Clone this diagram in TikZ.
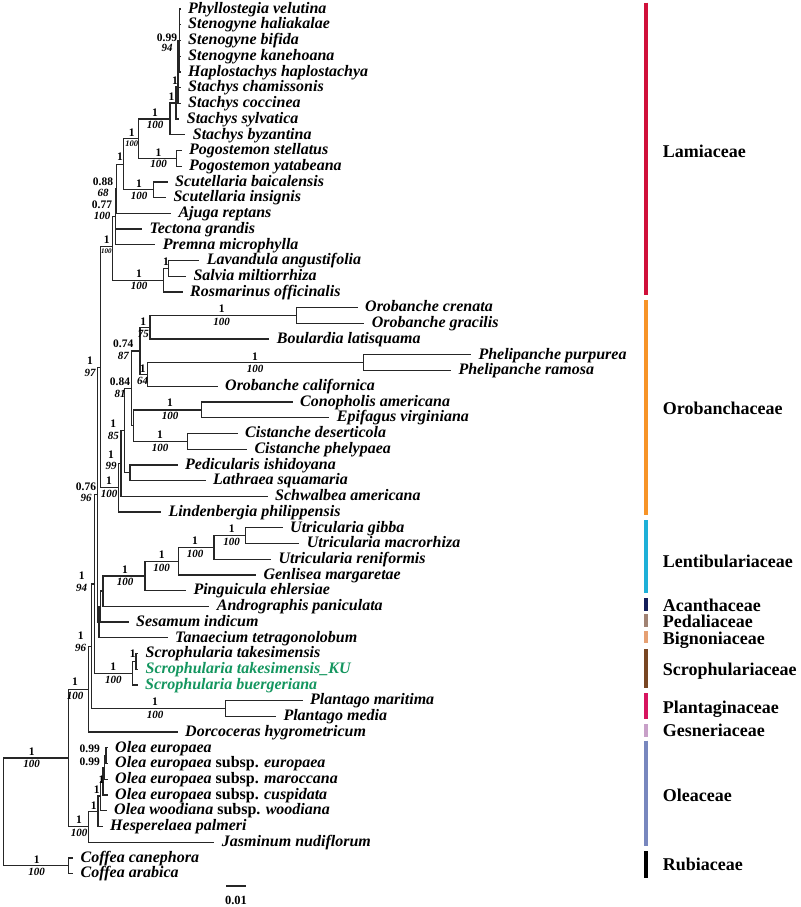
\documentclass[tikz,border=0pt]{standalone}
\usepackage{fontspec}
\setmainfont{Liberation Serif}
\definecolor{lamc}{RGB}{208,16,58}
\definecolor{oroc}{RGB}{247,148,40}
\definecolor{lenc}{RGB}{30,176,216}
\definecolor{acac}{RGB}{20,30,90}
\definecolor{pedc}{RGB}{160,130,115}
\definecolor{bigc}{RGB}{230,160,115}
\definecolor{scrc}{RGB}{120,70,35}
\definecolor{plac}{RGB}{215,20,95}
\definecolor{gesc}{RGB}{200,160,200}
\definecolor{olec}{RGB}{120,135,190}
\definecolor{grn}{RGB}{20,150,95}
\newcommand\lv[4]{\node[leafnode] (#1) at (#2,#3) {#4};}
\newcommand\brx[2]{\draw[brl] (#1) |- (#2);}
\newcommand\twolab[6]{\node[pp] (#1p) at (#2,#3) {#4}; \node[bs] (#1b) at (#2,#5) {#6};}
\newcommand\onelab[4]{\node[pp] (#1p) at (#2,#3) {#4};}
\newcommand\famlab[3]{\node[famnode] (#1) at (662.7,#2) {#3};}
\begin{document}
\begin{tikzpicture}[x=1pt,y=-1pt,
  brl/.style={line width=1.3pt, draw=black!85, line cap=rect},
  leafnode/.style={anchor=west, inner xsep=8pt, inner ysep=0pt, text height=11.5pt, text depth=3pt,
    font=\fontsize{16}{16}\selectfont\bfseries\itshape},
  pp/.style={inner sep=0pt, font=\fontsize{11.5}{12}\selectfont\bfseries},
  bs/.style={inner sep=0pt, font=\fontsize{11}{12}\selectfont\bfseries\itshape},
  famnode/.style={anchor=west, inner sep=0pt, text height=12pt, text depth=0pt,
    font=\fontsize{18}{20}\selectfont\bfseries},
  bar/.style={line width=4.6pt}]
\fill[white] (0,0) rectangle (800,907);
\useasboundingbox (0,0) rectangle (800,907);

% ---------- leaves ----------
\lv{L1}{180}{9.0}{Phyllostegia velutina}
\lv{L2}{180}{24.7}{Stenogyne haliakalae}
\lv{L3}{180}{40.4}{Stenogyne bifida}
\lv{L4}{180}{56.2}{Stenogyne kanehoana}
\lv{L5}{180}{71.9}{Haplostachys haplostachya}
\lv{L6}{180}{87.6}{Stachys chamissonis}
\lv{L7}{180}{103.3}{Stachys coccinea}
\lv{L8}{178.7}{119.0}{Stachys sylvatica}
\lv{L9}{184.7}{134.8}{Stachys byzantina}
\lv{L10}{181}{150.5}{Pogostemon stellatus}
\lv{L11}{181}{166.2}{Pogostemon yatabeana}
\lv{L12}{167}{181.9}{Scutellaria baicalensis}
\lv{L13}{165.3}{197.6}{Scutellaria insignis}
\lv{L14}{170.3}{213.4}{Ajuga reptans}
\lv{L15}{141.3}{229.1}{Tectona grandis}
\lv{L16}{154.7}{244.8}{Premna microphylla}
\lv{L17}{198.7}{260.5}{Lavandula angustifolia}
\lv{L18}{185.3}{276.2}{Salvia miltiorrhiza}
\lv{L19}{182}{292.0}{Rosmarinus officinalis}
\lv{L20}{357}{307.7}{Orobanche crenata}
\lv{L21}{363.7}{323.4}{Orobanche gracilis}
\lv{L22}{268.7}{339.1}{Boulardia latisquama}
\lv{L23}{470.3}{354.8}{Phelipanche purpurea}
\lv{L24}{450.3}{370.6}{Phelipanche ramosa}
\lv{L25}{217}{386.3}{Orobanche californica}
\lv{L26}{292}{402.0}{Conopholis americana}
\lv{L27}{328.7}{417.7}{Epifagus virginiana}
\lv{L28}{237}{433.4}{Cistanche deserticola}
\lv{L29}{246.3}{449.2}{Cistanche phelypaea}
\lv{L30}{177}{464.9}{Pedicularis ishidoyana}
\lv{L31}{205}{480.6}{Lathraea squamaria}
\lv{L32}{267}{496.3}{Schwalbea americana}
\lv{L33}{160.3}{512.0}{Lindenbergia philippensis}
\lv{L34}{282}{527.8}{Utricularia gibba}
\lv{L35}{298.7}{543.5}{Utricularia macrorhiza}
\lv{L36}{270.3}{559.2}{Utricularia reniformis}
\lv{L37}{255.3}{574.9}{Genlisea margaretae}
\lv{L38}{185.3}{590.6}{Pinguicula ehlersiae}
\lv{L39}{208.7}{606.4}{Andrographis paniculata}
\lv{L40}{128}{622.1}{Sesamum indicum}
\lv{L41}{167}{637.8}{Tanaecium tetragonolobum}
\lv{L42}{137.5}{653.5}{Scrophularia takesimensis}
\lv{L43}{137.5}{669.2}{\color{grn}Scrophularia takesimensis\_KU}
\lv{L44}{137}{685.0}{\color{grn}Scrophularia buergeriana}
\lv{L45}{302}{700.7}{Plantago maritima}
\lv{L46}{275.3}{716.4}{Plantago media}
\lv{L47}{177}{732.1}{Dorcoceras hygrometricum}
\lv{L48}{107}{747.8}{Olea europaea}
\lv{L49}{107}{763.6}{Olea europaea \upshape subsp. \itshape europaea}
\lv{L50}{107}{779.3}{Olea europaea \upshape subsp. \itshape maroccana}
\lv{L51}{107}{795.0}{Olea europaea \upshape subsp. \itshape cuspidata}
\lv{L52}{106}{810.7}{Olea woodiana \upshape subsp. \itshape woodiana}
\lv{L53}{102}{826.4}{Hesperelaea palmeri}
\lv{L54}{213.7}{842.2}{Jasminum nudiflorum}
\lv{L55}{72.5}{857.9}{Coffea canephora}
\lv{L56}{72.5}{873.6}{Coffea arabica}

% ---------- internal nodes ----------
\coordinate (a) at (179.5,40.4);
\coordinate (b) at (178,87);
\coordinate (c) at (176,103);
\coordinate (d) at (170,119);
\coordinate (Pog) at (176.7,158.3);
\coordinate (e) at (138.3,138.7);
\coordinate (Scut) at (153.3,189.8);
\coordinate (f) at (123.3,164.2);
\coordinate (g1) at (116.5,188.8);
\coordinate (g2) at (115.3,216.8);
\coordinate (Lav1) at (168.3,268.4);
\coordinate (Lav2) at (163.3,280.2);
\coordinate (h) at (112.7,246.7);
\coordinate (OC) at (296.7,315.5);
\coordinate (n) at (150,327.3);
\coordinate (Ph) at (363.3,362.7);
\coordinate (q) at (147.3,374.5);
\coordinate (o) at (140,350.9);
\coordinate (CE) at (201.7,409.9);
\coordinate (Cis) at (187.7,441.3);
\coordinate (s) at (133.3,425.6);
\coordinate (p) at (131.8,388.2);
\coordinate (PL) at (130,472.7);
\coordinate (r) at (124.5,430.5);
\coordinate (l) at (121,463.4);
\coordinate (k) at (118.3,487.7);
\coordinate (i) at (100.5,367.2);
\coordinate (U1) at (245.7,535.6);
\coordinate (U2) at (214,547.4);
\coordinate (U3) at (178.3,561.2);
\coordinate (Lent) at (145,575.9);
\coordinate (w) at (103,591.1);
\coordinate (v) at (100.8,606.6);
\coordinate (u) at (99,622.2);
\coordinate (j) at (97.3,494.7);
\coordinate (S1) at (136,661.4);
\coordinate (S2) at (132.7,673.2);
\coordinate (t) at (94.3,584);
\coordinate (Pl) at (225.7,708.5);
\coordinate (z) at (91.3,646.3);
\coordinate (R1a) at (88.7,689.2);
\coordinate (O1) at (106,755.7);
\coordinate (O2) at (104.5,767.5);
\coordinate (O3) at (103,781.3);
\coordinate (O4) at (100.5,796);
\coordinate (O5) at (98,811.2);
\coordinate (Olea) at (88.3,826.7);
\coordinate (R1) at (68.3,758);
\coordinate (Cof) at (68.3,865.7);
\coordinate (R0) at (3.3,811.9);

% ---------- branches ----------
\brx{a}{L1.west}\brx{a}{L2.west}\brx{a}{L3.west}\brx{a}{L4.west}\brx{a}{L5.west}
\brx{b}{a}\brx{b}{L6.west}\brx{b}{L7.west}
\brx{c}{b}\brx{c}{L8.west}
\brx{d}{c}\brx{d}{L9.west}
\brx{Pog}{L10.west}\brx{Pog}{L11.west}
\brx{e}{d}\brx{e}{Pog}
\brx{Scut}{L12.west}\brx{Scut}{L13.west}
\brx{f}{e}\brx{f}{Scut}
\brx{g1}{f}\brx{g1}{L14.west}
\brx{g2}{g1}\brx{g2}{L15.west}\brx{g2}{L16.west}
\brx{Lav1}{L17.west}\brx{Lav1}{L18.west}
\brx{Lav2}{Lav1}\brx{Lav2}{L19.west}
\brx{h}{g2}\brx{h}{Lav2}
\brx{OC}{L20.west}\brx{OC}{L21.west}
\brx{n}{OC}\brx{n}{L22.west}
\brx{Ph}{L23.west}\brx{Ph}{L24.west}
\brx{q}{Ph}\brx{q}{L25.west}
\brx{o}{n}\brx{o}{q}
\brx{CE}{L26.west}\brx{CE}{L27.west}
\brx{Cis}{L28.west}\brx{Cis}{L29.west}
\brx{s}{CE}\brx{s}{Cis}
\brx{p}{o}\brx{p}{s}
\brx{PL}{L30.west}\brx{PL}{L31.west}
\brx{r}{p}\brx{r}{PL}
\brx{l}{r}\brx{l}{L32.west}
\brx{k}{l}\brx{k}{L33.west}
\brx{i}{h}\brx{i}{k}
\brx{U1}{L34.west}\brx{U1}{L35.west}
\brx{U2}{U1}\brx{U2}{L36.west}
\brx{U3}{U2}\brx{U3}{L37.west}
\brx{Lent}{U3}\brx{Lent}{L38.west}
\brx{w}{Lent}\brx{w}{L39.west}
\brx{v}{w}\brx{v}{L40.west}
\brx{u}{v}\brx{u}{L41.west}
\brx{j}{i}\brx{j}{u}
\brx{S1}{L42.west}\brx{S1}{L43.west}
\brx{S2}{S1}\brx{S2}{L44.west}
\brx{t}{j}\brx{t}{S2}
\brx{Pl}{L45.west}\brx{Pl}{L46.west}
\brx{z}{t}\brx{z}{Pl}
\brx{R1a}{z}\brx{R1a}{L47.west}
\brx{O1}{L48.west}\brx{O1}{L49.west}
\brx{O2}{O1}\brx{O2}{L50.west}
\brx{O3}{O2}\brx{O3}{L51.west}
\brx{O4}{O3}\brx{O4}{L52.west}
\brx{O5}{O4}\brx{O5}{L53.west}
\brx{Olea}{O5}\brx{Olea}{L54.west}
\brx{R1}{R1a}\brx{R1}{Olea}
\brx{Cof}{L55.west}\brx{Cof}{L56.west}
\brx{R0}{R1}\brx{R0}{Cof}

% ---------- support values ----------
\twolab{a}{167}{38}{0.99}{48}{94}
\onelab{b}{175}{81}{1}
\onelab{c}{171.5}{96.5}{1}
\twolab{d}{155}{113}{1}{124.5}{100}
\twolab{Pog}{158.5}{152.5}{1}{164}{100}
\node[pp] (ep) at (131.7,132.5) {1};
\node[bs, font=\fontsize{8.5}{9}\selectfont\bfseries\itshape] (eb) at (131.7,144) {100};
\twolab{Scut}{139}{183.5}{1}{195.5}{100}
\onelab{f}{120}{157}{1}
\twolab{g1}{103}{182}{0.88}{192.5}{68}
\twolab{g2}{102}{205}{0.77}{215.5}{100}
\node[pp] (hp) at (106.7,240) {1};
\node[bs, font=\fontsize{7}{8}\selectfont\bfseries\itshape] (hb) at (106.3,251.5) {100};
\onelab{Lav1}{166}{262}{1}
\twolab{Lav2}{139}{273.5}{1}{285.5}{100}
\twolab{OC}{221.7}{308.5}{1}{321.5}{100}
\twolab{n}{143.3}{321.5}{1}{333.5}{75}
\twolab{Ph}{255}{356.5}{1}{368.5}{100}
\twolab{q}{142.7}{368.5}{1}{380.5}{64}
\twolab{o}{123.3}{344}{0.74}{356}{87}
\twolab{CE}{170}{402.5}{1}{415.5}{100}
\twolab{Cis}{160}{435}{1}{447.5}{100}
\twolab{p}{120}{381.5}{0.84}{393.5}{81}
\twolab{r}{113.3}{424}{1}{435.5}{85}
\twolab{l}{111}{454.5}{1}{466}{99}
\twolab{k}{109}{481}{1}{494}{100}
\twolab{i}{90}{360.5}{1}{372.5}{97}
\twolab{U1}{231.7}{529}{1}{541.5}{100}
\twolab{U2}{195}{541}{1}{553.5}{100}
\twolab{U3}{161.7}{555}{1}{567.5}{100}
\twolab{Lent}{125}{569.5}{1}{582}{100}
\twolab{j}{86}{487}{0.76}{498}{96}
\onelab{S1}{132.7}{653.5}{1}
\twolab{S2}{113.3}{667}{1}{680}{100}
\twolab{t}{81.7}{575.5}{1}{587.5}{94}
\twolab{Pl}{155}{702}{1}{714.5}{100}
\twolab{z}{80.7}{635.5}{1}{648}{96}
\twolab{R1a}{75}{682}{1}{696}{100}
\onelab{O1}{89.7}{749}{0.99}
\onelab{O2}{89.7}{762}{0.99}
\onelab{O3}{101.5}{780}{1}
\onelab{O4}{96.8}{790}{1}
\onelab{O5}{93.8}{806}{1}
\twolab{Olea}{79}{820}{1}{833}{100}
\twolab{R1}{31.7}{751.5}{1}{764}{100}
\twolab{Cof}{36.7}{859.5}{1}{872}{100}

% ---------- family bars ----------
\draw[bar, lamc] (646,2.7) -- (646,295);
\draw[bar, oroc] (646,300) -- (646,515);
\draw[bar, lenc] (646,520) -- (646,593.3);
\draw[bar, acac] (646,598.3) -- (646,611);
\draw[bar, pedc] (646,614.3) -- (646,626.7);
\draw[bar, bigc] (646,631) -- (646,643.3);
\draw[bar, scrc] (646,649.3) -- (646,688.3);
\draw[bar, plac] (646,693.3) -- (646,719.3);
\draw[bar, gesc] (646,724) -- (646,736.7);
\draw[bar, olec] (646,740.7) -- (646,846);
\draw[bar, black] (646,851) -- (646,878.3);

\famlab{Flam}{151.7}{Lamiaceae}
\famlab{Foro}{408.3}{Orobanchaceae}
\famlab{Flen}{561.7}{Lentibulariaceae}
\famlab{Faca}{605}{Acanthaceae}
\famlab{Fped}{621.7}{Pedaliaceae}
\famlab{Fbig}{638.3}{Bignoniaceae}
\famlab{Fscr}{669.3}{Scrophulariaceae}
\famlab{Fpla}{707.3}{Plantaginaceae}
\famlab{Fges}{730.7}{Gesneriaceae}
\famlab{Fole}{795}{Oleaceae}
\famlab{Frub}{864}{Rubiaceae}

% ---------- scale bar ----------
\coordinate (sb1) at (226.7,886);
\coordinate (sb2) at (245.7,886);
\draw[brl] (sb1) -- (sb2);
\node[pp, font=\fontsize{12.5}{13}\selectfont\bfseries] (sbl) at (236,900) {0.01};
\end{tikzpicture}
\end{document}
